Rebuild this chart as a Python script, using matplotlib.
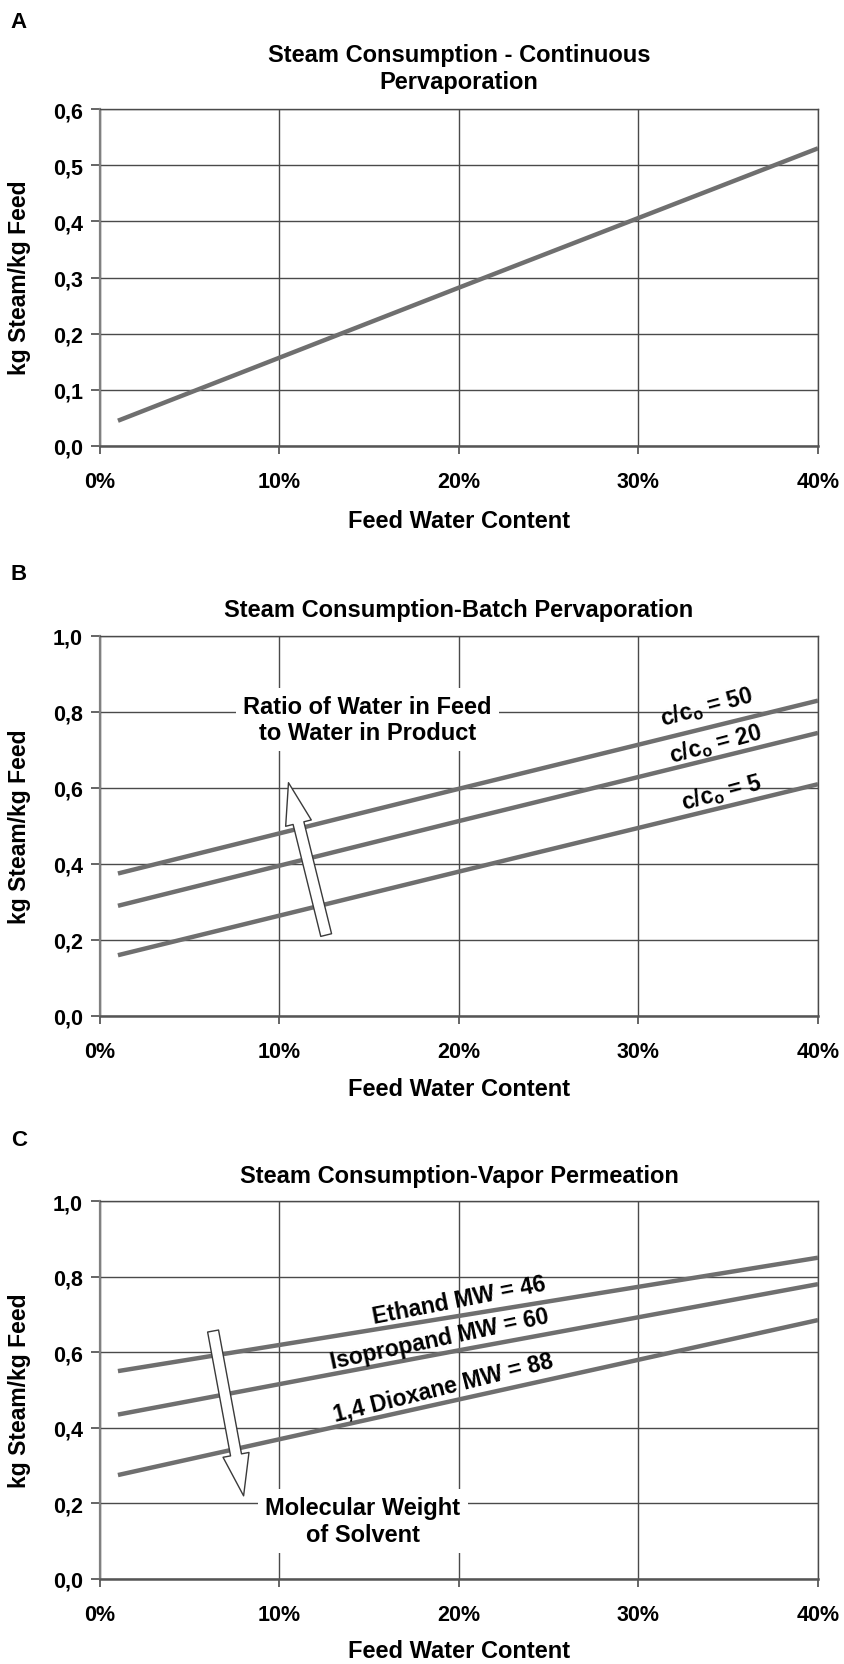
import numpy as np
import matplotlib
matplotlib.use('Agg')
import matplotlib.pyplot as plt
from matplotlib.patches import FancyArrowPatch

""" données lues sur la figure """

x_ticks = [0, 10, 20, 30, 40]
x_tick_labels = ['0%', '10%', '20%', '30%', '40%']
yA_ticks = [0.0, 0.1, 0.2, 0.3, 0.4, 0.5, 0.6]
yA_tick_labels = ['0,0', '0,1', '0,2', '0,3', '0,4', '0,5', '0,6']
yBC_ticks = [0.0, 0.2, 0.4, 0.6, 0.8, 1.0]
yBC_tick_labels = ['0,0', '0,2', '0,4', '0,6', '0,8', '1,0']

water = [1, 20, 40]  # % eau dans l'alimentation

# A : pervaporation continue
steam_cont = [0.045, 0.282, 0.53]

# B : pervaporation batch
ratios = ['50', '20', '5']
steam_batch_50 = [0.375, 0.598, 0.83]
steam_batch_20 = [0.29, 0.513, 0.745]
steam_batch_5 = [0.16, 0.38, 0.61]

# C : perméation de vapeur
solvants = ['Ethand MW = 46', 'Isopropand MW = 60', '1,4 Dioxane MW = 88']
steam_vp_eth = [0.55, 0.696, 0.85]
steam_vp_iso = [0.435, 0.605, 0.78]
steam_vp_dio = [0.275, 0.475, 0.685]

""" style """

FONT = ['Liberation Sans', 'DejaVu Sans']
LINE_C = '#6f6f6f'
GRID_C = '#4a4a4a'
W, H = 845, 1665

fig = plt.figure(figsize=(W / 100, H / 100), dpi=100)
fig.patch.set_facecolor('white')


def px_axes(top, bottom):  # axes placé en pixels
    return fig.add_axes([100 / W, 1 - bottom / H, 718 / W, (bottom - top) / H])


def style_axes(ax, yticks, ylabels):
    ax.set_xlim(0, 40)
    ax.set_ylim(yticks[0], yticks[-1])
    ax.set_xticks(x_ticks)
    ax.set_xticklabels(x_tick_labels, family=FONT, fontweight='bold', fontsize=15.5)
    ax.set_yticks(yticks)
    ax.set_yticklabels(ylabels, family=FONT, fontweight='bold', fontsize=15.5)
    ax.tick_params(axis='x', direction='out', length=6, width=1.2, color=GRID_C, pad=12)
    ax.tick_params(axis='y', direction='out', length=6.5, width=1.2, color=GRID_C, pad=6)
    ax.grid(True, color=GRID_C, linewidth=1.0)
    ax.set_axisbelow(True)
    for s in ['top', 'right']:
        ax.spines[s].set_color(GRID_C)
        ax.spines[s].set_linewidth(1.0)
    ax.spines['left'].set_color('#808080')
    ax.spines['left'].set_linewidth(1.6)
    ax.spines['bottom'].set_color('#555555')
    ax.spines['bottom'].set_linewidth(1.8)


def hollow_arrow(ax, p0, p1):
    arr = FancyArrowPatch(p0, p1, arrowstyle='simple,head_length=30,head_width=19,tail_width=8',
                          mutation_scale=1, shrinkA=0, shrinkB=0,
                          fc='white', ec='#3a3a3a', lw=1.0, zorder=6)
    ax.add_patch(arr)


def fig_text(x, y, s, **kw):
    fig.text(x / W, 1 - y / H, s, ha='center', va='center', **kw)


TS = 17     # titres
LS = 17     # légendes d'axe x / annotations
CS = 16.5   # étiquettes des courbes

# ---------- A ----------
axA = px_axes(110, 447)
style_axes(axA, yA_ticks, yA_tick_labels)
axA.plot(water, steam_cont, color=LINE_C, lw=3.2, solid_capstyle='butt', zorder=4)
fig_text(19, 22, 'A', family=FONT, fontweight='bold', fontsize=16)
fig_text(459, 69, 'Steam Consumption - Continuous\nPervaporation', family=FONT,
         fontweight='bold', fontsize=TS, linespacing=1.2)
fig_text(459, 522, 'Feed Water Content', family=FONT, fontweight='bold', fontsize=LS)
fig_text(20, 278, 'kg Steam/kg Feed', family=FONT, fontweight='bold', fontsize=16.5, rotation=90)

# ---------- B ----------
axB = px_axes(637, 1017)
style_axes(axB, yBC_ticks, yBC_tick_labels)
for serie in [steam_batch_50, steam_batch_20, steam_batch_5]:
    axB.plot(water, serie, color=LINE_C, lw=3.2, solid_capstyle='butt', zorder=4)
for r, (xx, yy) in zip(ratios, [(33.8, 0.816), (34.3, 0.718), (34.6, 0.59)]):
    axB.text(xx, yy, r'c/c$_\mathregular{o}$ = ' + r, family=FONT, fontweight='bold',
             fontsize=CS, rotation=15, ha='center', va='center', zorder=5)
axB.text(14.9, 0.78, 'Ratio of Water in Feed\nto Water in Product', family=FONT,
         fontweight='bold', fontsize=LS, ha='center', va='center', linespacing=1.2, zorder=5,
         bbox=dict(boxstyle='square,pad=0.3', fc='white', ec='none'))
hollow_arrow(axB, (12.6, 0.213), (10.5, 0.614))
fig_text(19, 575, 'B', family=FONT, fontweight='bold', fontsize=16)
fig_text(459, 611, 'Steam Consumption-Batch Pervaporation', family=FONT,
         fontweight='bold', fontsize=TS)
fig_text(459, 1090, 'Feed Water Content', family=FONT, fontweight='bold', fontsize=LS)
fig_text(20, 827, 'kg Steam/kg Feed', family=FONT, fontweight='bold', fontsize=16.5, rotation=90)

# ---------- C ----------
axC = px_axes(1202, 1580)
style_axes(axC, yBC_ticks, yBC_tick_labels)
for serie in [steam_vp_eth, steam_vp_iso, steam_vp_dio]:
    axC.plot(water, serie, color=LINE_C, lw=3.2, solid_capstyle='butt', zorder=4)
for s, (xx, yy, rot) in zip(solvants, [(20.0, 0.738, 11), (18.9, 0.635, 12), (19.1, 0.508, 14)]):
    axC.text(xx, yy, s, family=FONT, fontweight='bold', fontsize=CS,
             rotation=rot, ha='center', va='center', zorder=5)
axC.text(14.65, 0.153, 'Molecular Weight\nof Solvent', family=FONT,
         fontweight='bold', fontsize=LS, ha='center', va='center', linespacing=1.2, zorder=5,
         bbox=dict(boxstyle='square,pad=0.3', fc='white', ec='none'))
hollow_arrow(axC, (6.3, 0.656), (8.0, 0.22))
fig_text(19, 1141, 'C', family=FONT, fontweight='bold', fontsize=16)
fig_text(459, 1177, 'Steam Consumption-Vapor Permeation', family=FONT,
         fontweight='bold', fontsize=TS)
fig_text(459, 1652, 'Feed Water Content', family=FONT, fontweight='bold', fontsize=LS)
fig_text(20, 1391, 'kg Steam/kg Feed', family=FONT, fontweight='bold', fontsize=16.5, rotation=90)

fig.savefig('out.png', dpi=100, facecolor='white')
